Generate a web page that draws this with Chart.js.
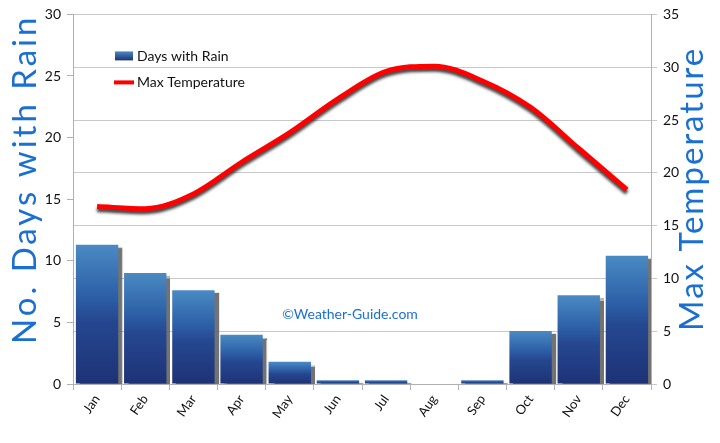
<!DOCTYPE html>
<html>
<head>
<meta charset="utf-8">
<script src="https://cdn.jsdelivr.net/npm/chart.js@4/dist/chart.umd.min.js"></script>
<style>
html,body{margin:0;padding:0;background:#fff;}
#wrap{position:relative;width:720px;height:443px;}
</style>
</head>
<body>
<div id="wrap"><canvas id="c" width="720" height="443"></canvas></div>
<script>
const months = ["Jan","Feb","Mar","Apr","May","Jun","Jul","Aug","Sep","Oct","Nov","Dec"];
const rainDays = [11.3, 9.0, 7.6, 4.0, 1.8, 0.3, 0.3, 0, 0.3, 4.3, 7.2, 10.4];
const maxTemp = [16.8, 16.6, 18.0, 21.0, 23.8, 27.0, 29.6, 30.1, 28.7, 26.2, 22.3, 18.4];
const rainTicks = [0, 5, 10, 15, 20, 25, 30];
const tempTicks = [0, 5, 10, 15, 20, 25, 30, 35];
const rainLabel = "Days with Rain";
const tempLabel = "Max Temperature";
const leftTitle = "No. Days with Rain";
const rightTitle = "Max Temperature";
const watermark = "©Weather-Guide.com";

const titleBlue = "#1a6fd0";
const tickFont = {family: "Lato", size: 14};

function barGradient(ctx) {
  const chart = ctx.chart;
  const ys = chart.scales.y;
  if (!ys || !chart.chartArea || ctx.type !== 'data') return "#2a5aa0";
  const v = ctx.raw || 0;
  const yTop = ys.getPixelForValue(v);
  const yBot = ys.getPixelForValue(0);
  if (Math.abs(yBot - yTop) < 1) return "#2a5aa0";
  const g = chart.ctx.createLinearGradient(0, yBot, 0, yTop);
  g.addColorStop(0, "#1e3276");
  g.addColorStop(0.45, "#25478f");
  g.addColorStop(0.62, "#2c5ea6");
  g.addColorStop(1, "#4a8ac3");
  return g;
}

const shadowPlugin = {
  id: 'shadows',
  beforeDatasetDraw(chart, args) {
    const ctx = chart.ctx;
    ctx.save();
    if (args.meta.type === 'bar') {
      ctx.shadowColor = 'rgba(90,90,90,0.85)';
      ctx.shadowOffsetX = 4;
      ctx.shadowOffsetY = 3;
      ctx.shadowBlur = 1;
    } else {
      ctx.shadowColor = 'rgba(30,30,30,0.85)';
      ctx.shadowOffsetX = 0;
      ctx.shadowOffsetY = 3;
      ctx.shadowBlur = 3;
    }
  },
  afterDatasetDraw(chart) {
    chart.ctx.restore();
  }
};

const extrasPlugin = {
  id: 'extras',
  afterDraw(chart) {
    const ctx = chart.ctx;
    const ca = chart.chartArea;
    ctx.save();
    // legend
    const lx = ca.left + 42, ly1 = ca.top + 42, ly2 = ca.top + 68;
    const g = ctx.createLinearGradient(0, ly1 - 5, 0, ly1 + 4);
    g.addColorStop(0, "#4a8ac3");
    g.addColorStop(1, "#1e3276");
    ctx.fillStyle = g;
    ctx.fillRect(lx, ly1 - 5, 18, 9);
    ctx.strokeStyle = "#ff0000";
    ctx.lineWidth = 4;
    ctx.beginPath();
    ctx.moveTo(lx - 1, ly2);
    ctx.lineTo(lx + 19, ly2);
    ctx.stroke();
    ctx.fillStyle = "#111";
    ctx.font = "14px Lato";
    ctx.textBaseline = "middle";
    ctx.textAlign = "left";
    ctx.fillText(rainLabel, lx + 22, ly1);
    ctx.fillText(tempLabel, lx + 22, ly2);
    // watermark
    ctx.fillStyle = titleBlue;
    ctx.font = "14px Lato";
    ctx.textAlign = "center";
    ctx.fillText(watermark, 350, 314);
    // axis titles (both read bottom to top)
    ctx.fillStyle = titleBlue;
    ctx.font = "33px Lato";
    ctx.textAlign = "left";
    ctx.textBaseline = "alphabetic";
    ctx.save();
    ctx.letterSpacing = "3px";
    ctx.translate(36, 344);
    ctx.rotate(-Math.PI / 2);
    ctx.fillText(leftTitle, 0, 0);
    ctx.restore();
    ctx.save();
    ctx.letterSpacing = "2px";
    ctx.translate(703, 331);
    ctx.rotate(-Math.PI / 2);
    ctx.fillText(rightTitle, 0, 0);
    ctx.restore();
    ctx.restore();
  }
};

new Chart(document.getElementById('c'), {
  data: {
    labels: months,
    datasets: [
      {
        type: 'line',
        label: tempLabel,
        data: maxTemp,
        yAxisID: 'y1',
        borderColor: '#ff0000',
        borderWidth: 5,
        pointRadius: 0,
        tension: 0.4,
        cubicInterpolationMode: 'monotone',
        fill: false,
        order: 0
      },
      {
        type: 'bar',
        label: rainLabel,
        data: rainDays,
        yAxisID: 'y',
        backgroundColor: barGradient,
        borderWidth: 0,
        barPercentage: 0.88,
        categoryPercentage: 1.0,
        order: 1
      }
    ]
  },
  options: {
    responsive: false,
    animation: false,
    devicePixelRatio: 1,
    layout: {padding: {top: 11, left: 0, right: 0, bottom: 0}},
    plugins: {legend: {display: false}, tooltip: {enabled: false}},
    scales: {
      x: {
        offset: true,
        grid: {display: true, drawOnChartArea: false, offset: true, tickLength: 6, color: '#b0b0b0'},
        border: {color: '#b0b0b0'},
        ticks: {color: '#111', font: {family: "Lato", size: 13}, minRotation: 55, maxRotation: 55, padding: 2},
        afterFit(s) { s.height = 59; }
      },
      y: {
        position: 'left',
        min: 0, max: 30,
        afterBuildTicks(s) { s.ticks = rainTicks.map(v => ({value: v})); },
        grid: {drawOnChartArea: false, tickLength: 6, color: '#b0b0b0'},
        border: {color: '#b0b0b0'},
        ticks: {color: '#111', font: tickFont, padding: 6},
        afterFit(s) { s.width = 73; }
      },
      y1: {
        position: 'right',
        min: 0, max: 35,
        afterBuildTicks(s) { s.ticks = tempTicks.map(v => ({value: v})); },
        grid: {drawOnChartArea: true, tickLength: 6, color: '#c8c8c8'},
        border: {color: '#b0b0b0'},
        ticks: {color: '#111', font: tickFont, padding: 6},
        afterFit(s) { s.width = 69; }
      }
    }
  },
  plugins: [shadowPlugin, extrasPlugin]
});
</script>
</body>
</html>
